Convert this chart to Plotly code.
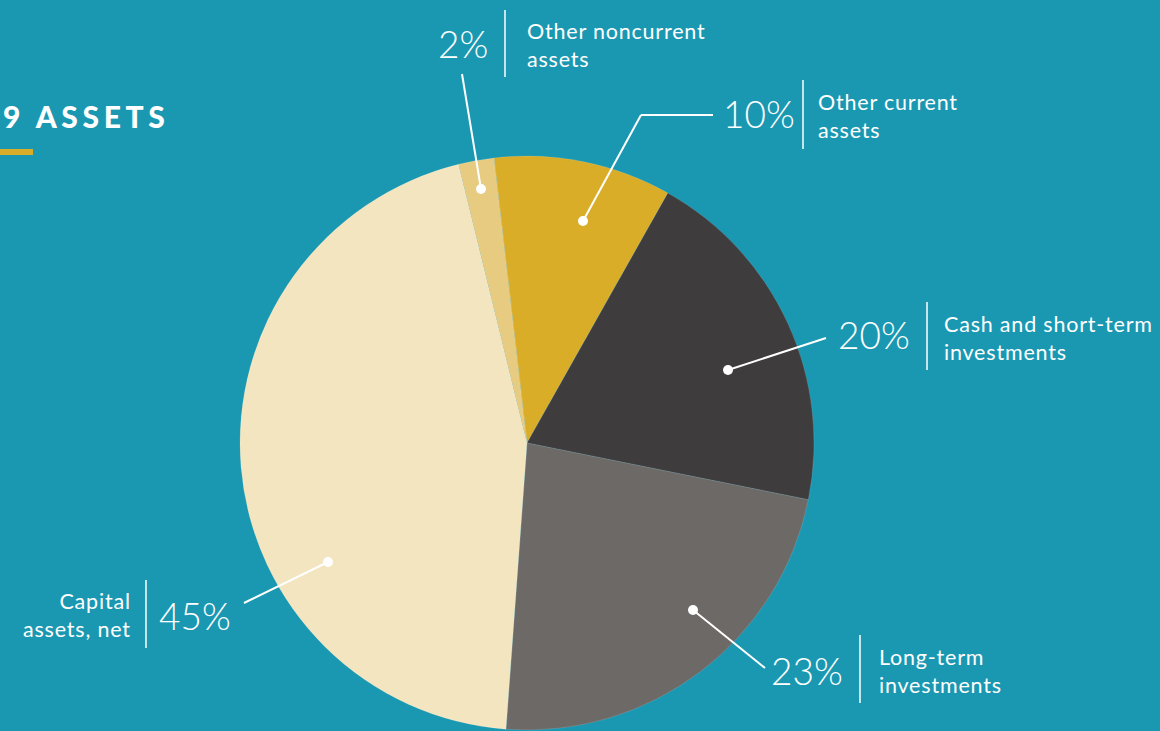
import plotly.graph_objects as go

W, H = 1160, 731

# ---- data ----
categories = ["Other current<br>assets", "Cash and short-term<br>investments",
              "Long-term<br>investments", "Capital<br>assets, net",
              "Other noncurrent<br>assets"]
values = [10, 20, 23, 45, 2]
colors = ["#D9AD28", "#3E3C3D", "#6D6967", "#F3E5BF", "#E6CB80"]
title_text = "2019 ASSETS"

BG = "#1A98B2"

def px(x):
    return x / W

def py(y):
    return 1 - y / H

def spaced(text, ls):
    return f'<span style="letter-spacing:{ls}px">{text}</span>'

# pie geometry (pixels)
cx, cy, r = 527, 443, 287

fig = go.Figure()
fig.add_trace(go.Pie(
    labels=[c.replace("<br>", " ") for c in categories],
    values=values,
    marker=dict(colors=colors, line=dict(color="rgba(255,255,255,0.25)", width=0.5)),
    sort=False,
    direction="clockwise",
    rotation=-6.6,
    textinfo="none",
    hoverinfo="label+percent",
    showlegend=False,
    domain=dict(x=[px(cx - r), px(cx + r)], y=[py(cy + r), py(cy - r)]),
))

# label layout (pixels): dot, leader path, pct text, separator, category text
label_layout = [
    # Other current
    dict(dot=(583, 221), path=[(583, 221), (641, 115), (713, 115)],
         pct=(721, 114, "left"), sep=(803, 80, 149), cat=(816, 116, "left")),
    # Cash
    dict(dot=(728, 370), path=[(728, 370), (826, 338)],
         pct=(836, 335, "left"), sep=(927, 302, 370), cat=(942, 338, "left")),
    # Long-term
    dict(dot=(693, 610), path=[(693, 610), (765, 668)],
         pct=(769, 670, "left"), sep=(860, 635, 703), cat=(877, 671, "left")),
    # Capital
    dict(dot=(328, 562), path=[(328, 562), (244, 603)],
         pct=(157, 615, "left"), sep=(146, 580, 648), cat=(133, 615, "right")),
    # Other noncurrent
    dict(dot=(481, 189), path=[(481, 189), (462, 74)],
         pct=(490, 43, "right"), sep=(505, 10, 77), cat=(525, 45, "left")),
]

shapes = []
annotations = []
for cat, val, lay in zip(categories, values, label_layout):
    pts = lay["path"]
    for (x0, y0), (x1, y1) in zip(pts[:-1], pts[1:]):
        shapes.append(dict(type="line", xref="paper", yref="paper",
                           x0=px(x0), y0=py(y0), x1=px(x1), y1=py(y1),
                           line=dict(color="white", width=2)))
    dx, dy = lay["dot"]
    rad = 5
    shapes.append(dict(type="circle", xref="paper", yref="paper",
                       x0=px(dx - rad), x1=px(dx + rad), y0=py(dy + rad), y1=py(dy - rad),
                       fillcolor="white", line=dict(width=0)))
    sx, sy0, sy1 = lay["sep"]
    shapes.append(dict(type="line", xref="paper", yref="paper",
                       x0=px(sx), x1=px(sx), y0=py(sy0), y1=py(sy1),
                       line=dict(color="white", width=1.5)))
    tx, ty, anc = lay["pct"]
    annotations.append(dict(text=f"{val}%", xref="paper", yref="paper",
                            x=px(tx), y=py(ty), xanchor=anc, yanchor="middle",
                            showarrow=False,
                            font=dict(family="Lato", size=37, color="white", weight=300)))
    tx, ty, anc = lay["cat"]
    lines = cat.split("<br>")
    annotations.append(dict(text="<br>".join(spaced(s, 0.8) for s in lines),
                            xref="paper", yref="paper",
                            x=px(tx), y=py(ty), xanchor=anc, yanchor="middle",
                            align=anc, showarrow=False,
                            font=dict(family="Lato", size=21.5, color="white")))

# title and underline bar
annotations.append(dict(text=spaced(title_text, 4.6), xref="paper", yref="paper",
                        x=px(171), y=py(116), xanchor="right", yanchor="middle",
                        showarrow=False,
                        font=dict(family="Lato", size=30, color="white", weight=900)))
shapes.append(dict(type="rect", xref="paper", yref="paper",
                   x0=px(-2), x1=px(33), y0=py(155), y1=py(149),
                   fillcolor="#D9AD28", line=dict(width=0)))

fig.update_layout(
    width=W, height=H,
    margin=dict(l=0, r=0, t=0, b=0),
    paper_bgcolor=BG, plot_bgcolor=BG,
    shapes=shapes, annotations=annotations,
)

fig.write_html("out.html")
